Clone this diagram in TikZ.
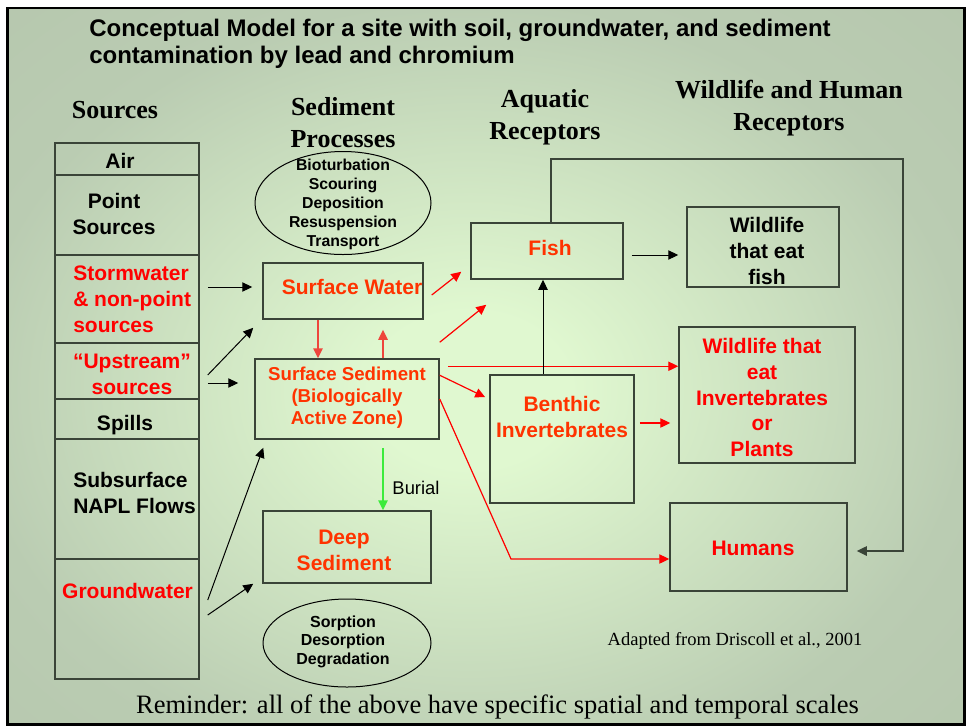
\documentclass[tikz,border=0pt]{standalone}
\usepackage{fontspec}
\setmainfont{Liberation Serif}
\setsansfont{Liberation Sans}
\usetikzlibrary{arrows.meta,calc,shapes.geometric}

\newdimen\pxu
\pxu=0.75pt

\definecolor{bgin}{RGB}{224,248,208}
\definecolor{bgmid}{RGB}{186,204,178}
\definecolor{bgout}{RGB}{176,192,168}
\definecolor{boxline}{RGB}{58,68,56}
\definecolor{orred}{RGB}{255,51,0}
\definecolor{arrred}{RGB}{255,0,0}
\definecolor{vred}{RGB}{238,70,60}
\definecolor{burialgreen}{RGB}{60,235,60}

\pgfdeclareradialshading{slidebg}{\pgfpoint{0bp}{0bp}}{%
  color(0bp)=(bgin); color(5bp)=(bgin); color(25bp)=(bgmid); color(50bp)=(bgout)}

\begin{document}
\begin{tikzpicture}[x=0.75pt,y=-0.75pt,
  box/.style={draw=boxline, line width=1.5\pxu, inner sep=0pt},
  cell/.style={box, minimum width=144\pxu},
  proc/.style={draw=black, line width=1\pxu, ellipse, inner sep=0pt},
  lbl/.style={inner sep=0pt, align=center},
  titlefont/.style={font=\sffamily\bfseries\fontsize{18}{20.25}\selectfont},
  headfont/.style={font=\rmfamily\bfseries\fontsize{19.5}{24}\selectfont},
  srcfont/.style={font=\sffamily\bfseries\fontsize{15.75}{19.5}\selectfont},
  boxfont/.style={font=\sffamily\bfseries\fontsize{15.75}{19.5}\selectfont},
  ssfont/.style={font=\sffamily\bfseries\fontsize{14}{16.5}\selectfont},
  procfont/.style={font=\sffamily\bfseries\fontsize{11.85}{14.25}\selectfont},
  sorbfont/.style={font=\sffamily\bfseries\fontsize{12}{13.9}\selectfont},
  blk/.style={draw=black, line width=1\pxu, -{Triangle[length=7.5pt,width=7pt]}},
  redarr/.style={draw=arrred, line width=1.2\pxu, -{Triangle[length=7.5pt,width=7pt]}},
  redv/.style={draw=vred, line width=1.5\pxu, -{Triangle[length=7.5pt,width=7pt]}},
  greenarr/.style={draw=burialgreen, line width=1.5\pxu, -{Triangle[length=7.5pt,width=7pt]}}]

\useasboundingbox (0,0) rectangle (967,726);
\fill[white] (0,0) rectangle (967,726);

% slide background with a soft radial glow
\begin{scope}
  \clip (7.5,8) rectangle (964.5,724.5);
  \shade[shading=slidebg] (-30,0) rectangle (970,780);
\end{scope}
\draw[line width=2.5\pxu] (7.5,8) rectangle (964.5,724.5);

% title
\node[inner sep=0pt, anchor=base west, titlefont] (title1) at (89,36)
  {Conceptual Model for a site with soil, groundwater, and sediment};
\node[inner sep=0pt, anchor=base west, titlefont] (title2) at (89,63)
  {contamination by lead and chromium};

% column headings
\node[lbl, headfont] (hsrc) at (115,110) {Sources};
\node[lbl, headfont] (hsed) at (343,123) {Sediment\\Processes};
\node[lbl, headfont] (haq) at (545,117) {Aquatic\\Receptors};
\node[lbl, headfont] (hwild) at (789,108) {Wildlife and Human\\Receptors};

% sources column
\node[cell, minimum height=32\pxu] (air) at (127,159) {};
\node[cell, minimum height=80\pxu] (point) at (127,215) {};
\node[cell, minimum height=88\pxu] (storm) at (127,299) {};
\node[cell, minimum height=56\pxu] (upstr) at (127,371) {};
\node[cell, minimum height=40\pxu] (spills) at (127,419) {};
\node[cell, minimum height=120\pxu] (napl) at (127,499) {};
\node[cell, minimum height=120\pxu] (gw) at (127,619) {};

\node[lbl, srcfont] (tair) at (120,161) {Air};
\node[lbl, srcfont] (tpoint) at (114,214) {Point\\Sources};
\node[lbl, srcfont, align=left, anchor=west, text=arrred] (tstorm) at (73,299) {Stormwater\\\& non-point\\sources};
\node[lbl, srcfont, text=arrred] (tupstr) at (132,374) {“Upstream”\\sources};
\node[lbl, srcfont] (tspills) at (125,425) {Spills};
\node[lbl, srcfont, align=left, anchor=west] (tnapl) at (73,493) {Subsurface\\NAPL Flows};
\node[lbl, srcfont, text=arrred] (tgw) at (127.5,591) {Groundwater};

% sediment processes
\node[proc, minimum width=176\pxu, minimum height=103\pxu] (pr1) at (343,203) {};
\node[lbl, procfont] (tpr1) at (343,204.5) {Bioturbation\\Scouring\\Deposition\\Resuspension\\Transport};

\node[box, minimum width=160\pxu, minimum height=56\pxu] (sw) at (343,291) {};
\node[lbl, boxfont, text=orred] (tsw) at (352,287) {Surface Water};

\node[box, minimum width=184\pxu, minimum height=80\pxu] (ss) at (347,399) {};
\node[lbl, ssfont, text=orred] (tss) at (347,398) {Surface Sediment\\(Biologically\\Active Zone)};

\node[box, minimum width=168\pxu, minimum height=72\pxu] (deep) at (347,547) {};
\node[lbl, boxfont, text=orred] (tdeep) at (344,550) {Deep\\Sediment};

\node[proc, minimum width=168\pxu, minimum height=88\pxu] (pr2) at (347,643) {};
\node[lbl, sorbfont] (tpr2) at (343,641.5) {Sorption\\Desorption\\Degradation};

% aquatic receptors
\node[box, minimum width=152\pxu, minimum height=56\pxu] (fish) at (547,251) {};
\node[lbl, boxfont, text=orred] (tfish) at (550,248) {Fish};

\node[box, minimum width=144\pxu, minimum height=128\pxu] (benthic) at (562,439) {};
\node[lbl, boxfont, text=orred] (tbenthic) at (562,417) {Benthic\\Invertebrates};

% wildlife and human receptors
\node[box, minimum width=152\pxu, minimum height=80\pxu] (wfish) at (763,247) {};
\node[lbl, boxfont] (twfish) at (767,251) {Wildlife\\that eat\\fish};

\node[box, minimum width=176\pxu, minimum height=136\pxu] (winv) at (767,395) {};
\node[lbl, text=arrred, font=\sffamily\bfseries\fontsize{15.75}{19.3}\selectfont] (twinv) at (762,397.5)
  {Wildlife that\\eat\\Invertebrates\\or\\Plants};

\node[box, minimum width=177\pxu, minimum height=88\pxu] (humans) at (758.5,547) {};
\node[lbl, boxfont, text=arrred] (thumans) at (753,548) {Humans};

% sources feeding the sediment system
\coordinate (s1) at ($(storm.east)+(8,-12)$);
\coordinate (s2) at ($(upstr.east)+(8,4)$);
\coordinate (s3) at ($(upstr.east)+(8,12)$);
\coordinate (s4) at ($(gw.east)+(8,-19)$);
\coordinate (s5) at ($(gw.east)+(8,-4)$);
\draw[blk, shorten >=7.5pt] (s1) -- (s1 -| sw.west);
\draw[blk] (s2) -- ($(sw.south west)+(-9,8)$);
\draw[blk, shorten >=12pt] (s3) -- (s3 -| ss.west);
\draw[blk] (s4) -- ($(ss.south west)+(9,8)$);
\draw[blk] (s5) -- ($(deep.south west)+(-9,0)$);

% exchange between water and sediment
\draw[redv] ($(sw.south)+(-25,0)$) -- ($(ss.north)+(-29,0)$);
\draw[redv, shorten >=7.5pt] ($(ss.north)+(36,0)$) -- ($(sw.south)+(40,0)$);
\draw[greenarr] ($(ss.south)+(36,8)$) -- ($(deep.north)+(36,0)$);
\node[inner sep=0pt, font=\sffamily\fontsize{13.8}{16}\selectfont] (burial) at (416,488) {Burial};

% exposure pathways
\draw[redarr] ($(sw.east)+(8,4)$) -- ($(fish.south west)+(-9,-8)$);
\draw[redarr] ($(ss.north east)+(0,-16)$) -- ($(fish.south west)+(16,25)$);
\coordinate (h1) at ($(ss.north east)+(8,8)$);
\draw[redarr] (h1) -- (h1 -| winv.west);
\draw[redarr] ($(ss.north east)+(0,17)$) -- ($(benthic.north west)+(-4,23)$);
\coordinate (bend) at (511,559);
\draw[redarr] (ss.east) -- (bend) -- (bend -| humans.west);
\draw[redarr, shorten >=6pt] ($(benthic.east)+(5,-16)$) -- ($(winv.west)+(0,28)$);

% food chain links
\draw[blk, shorten <=6pt, shorten >=6pt] ($(fish.east)+(0,4)$) -- ($(wfish.west)+(0,8)$);
\draw[blk] ($(benthic.north)+(-19,0)$) -- ($(fish.south)+(-4,0)$);
\coordinate (loop) at (903,159);
\draw[blk, line width=1.5\pxu, draw=boxline] ($(fish.north)+(4,0)$) |- (loop) |- ($(humans.east)+(9,4)$);

% notes
\node[inner sep=0pt, font=\rmfamily\fontsize{13.9}{16}\selectfont] (src) at (735,641) {Adapted from Driscoll et al., 2001};
\node[inner sep=0pt, font=\rmfamily\fontsize{19.9}{24}\selectfont] (remind) at (497.5,707)
  {Reminder: all of the above have specific spatial and temporal scales};
\end{tikzpicture}
\end{document}
